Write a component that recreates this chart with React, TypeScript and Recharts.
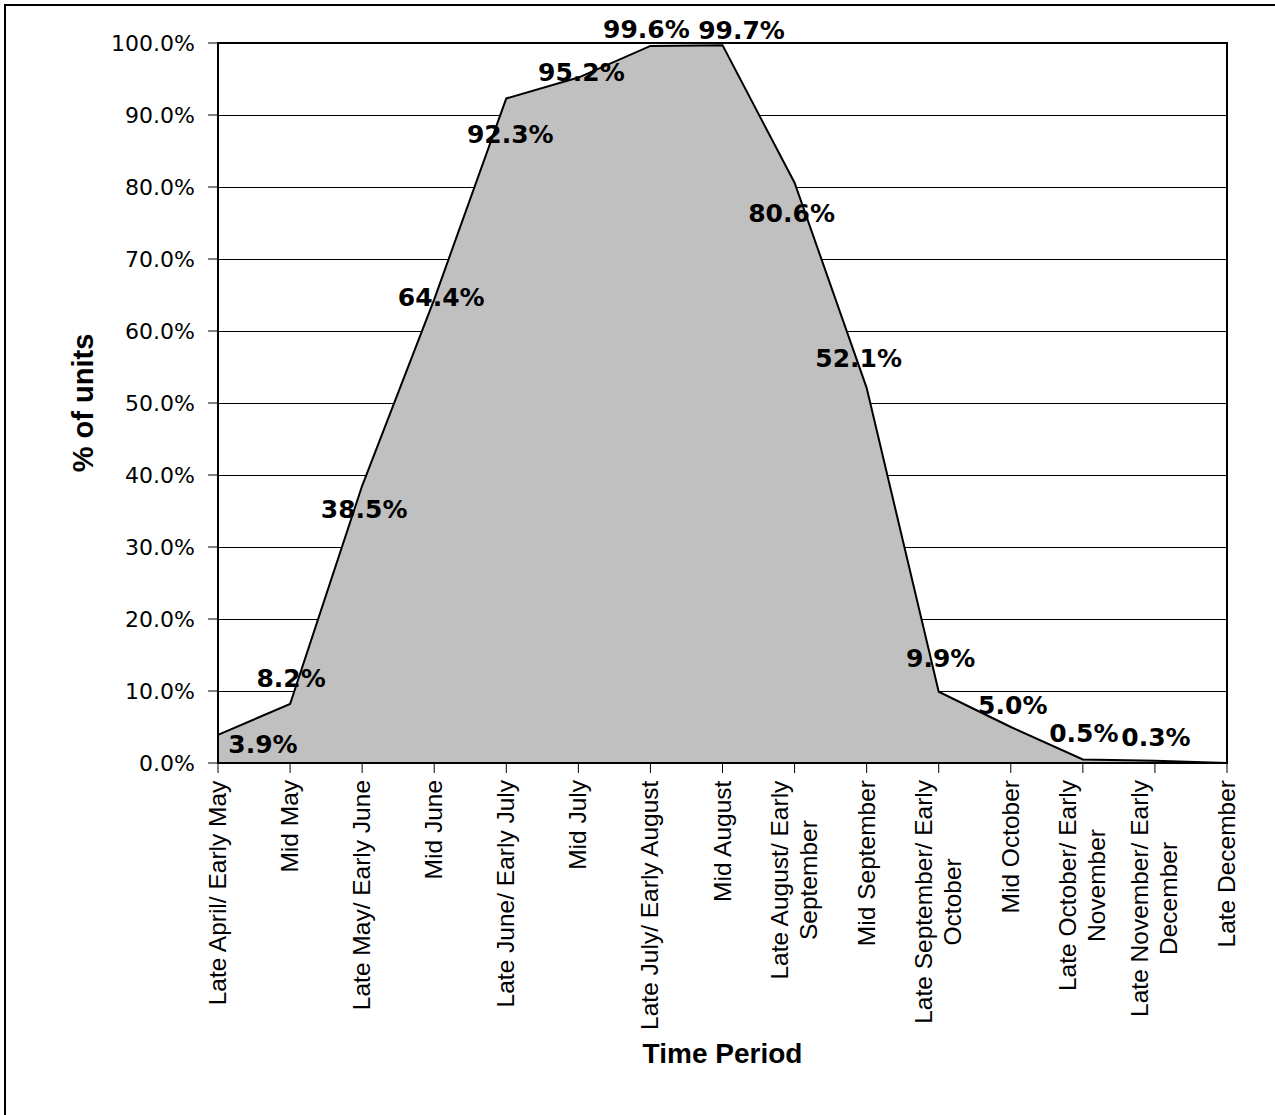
import React from 'react'
import {
  AreaChart,
  Area,
  XAxis,
  YAxis,
  CartesianGrid,
  LabelList,
  ReferenceArea,
  Label,
} from 'recharts'

const periods = [
  'Late April/ Early May',
  'Mid May',
  'Late May/ Early June',
  'Mid June',
  'Late June/ Early July',
  'Mid July',
  'Late July/ Early August',
  'Mid August',
  'Late August/ Early\nSeptember',
  'Mid September',
  'Late September/ Early\nOctober',
  'Mid October',
  'Late October/ Early\nNovember',
  'Late November/ Early\nDecember',
  'Late December',
]

const unitsPct = [3.9, 8.2, 38.5, 64.4, 92.3, 95.2, 99.6, 99.7, 80.6, 52.1, 9.9, 5.0, 0.5, 0.3, 0]

const yTicks = [0, 10, 20, 30, 40, 50, 60, 70, 80, 90, 100]

// label nudges (px) so the value labels sit where the original put them
const labelNudge: [number, number][] = [
  [45, 10], [1, -25], [2, 24], [7, -2], [4, 36], [3, -5], [-4, -16], [19, -15],
  [-3, 31], [-8, -29], [2, -33], [2, -22], [1, -26], [1, -23], [0, 0],
]

const data = periods.map((p, i) => ({ period: p, units: unitsPct[i] }))

const TICK_SIZE = 24.5
const TICK_FONT = `${TICK_SIZE}px 'Liberation Sans'`
let ctx: CanvasRenderingContext2D | null = null
function textWidth(s: string) {
  if (!ctx) ctx = document.createElement('canvas').getContext('2d')
  if (!ctx) return s.length * 12
  ctx.font = TICK_FONT
  return ctx.measureText(s).width
}

function PeriodTick({ x, y, payload }: any) {
  const lines = String(payload.value).split('\n')
  const maxW = Math.max(...lines.map(textWidth))
  const lh = 29
  return (
    <g transform={`translate(${x},${y + 5}) rotate(-90)`}>
      {lines.map((ln, i) => (
        <text
          key={i}
          x={-maxW / 2}
          y={8 + (i - (lines.length - 1) / 2) * lh}
          textAnchor="middle"
          fontFamily="'Liberation Sans', Arial, sans-serif"
          fontSize={TICK_SIZE}
          fill="#000"
        >
          {ln}
        </text>
      ))}
    </g>
  )
}

function ValueLabel({ x, y, value, index }: any) {
  if (!value) return null
  const [dx, dy] = labelNudge[index] || [0, 0]
  return (
    <text
      x={x + dx}
      y={y + dy}
      textAnchor="middle"
      dominantBaseline="central"
      fontFamily="'DejaVu Sans', Verdana, sans-serif"
      fontWeight="bold"
      fontSize={25}
      fill="#000"
    >
      {`${Number(value).toFixed(1)}%`}
    </text>
  )
}

export default function App() {
  return (
    <div
      style={{
        position: 'absolute',
        left: 0,
        top: 0,
        width: 1275,
        height: 1115,
        overflow: 'hidden',
        background: '#fff',
      }}
    >
      <div
        style={{
          position: 'absolute',
          left: 4,
          top: 4,
          width: 1320,
          height: 1200,
          border: '2px solid #000',
        }}
      />
      <div style={{ position: 'absolute', left: 0, top: 0 }}>
        <AreaChart
          width={1275}
          height={1115}
          data={data}
          margin={{ top: 43, right: 48, left: 0, bottom: 0 }}
        >
          <CartesianGrid vertical={false} stroke="#000" strokeWidth={1} shapeRendering="crispEdges" />
          <XAxis
            dataKey="period"
            interval={0}
            height={352}
            tickSize={10}
            tickLine={{ stroke: '#000' }}
            axisLine={{ stroke: '#000', strokeWidth: 2 }}
            tick={<PeriodTick />}
          >
            <Label
              content={({ viewBox }: any) => (
                <text
                  x={viewBox.x + viewBox.width / 2}
                  y={1063}
                  textAnchor="middle"
                  fontFamily="'Liberation Sans', Arial, sans-serif"
                  fontWeight="bold"
                  fontSize={28}
                  fill="#000"
                >
                  Time Period
                </text>
              )}
            />
          </XAxis>
          <YAxis
            width={218}
            domain={[0, 100]}
            ticks={yTicks}
            interval={0}
            tickSize={10}
            tickMargin={13}
            tickLine={{ stroke: '#000' }}
            axisLine={{ stroke: '#000', strokeWidth: 2 }}
            tick={{ fontSize: 22, fill: '#000', fontFamily: "'DejaVu Sans', Verdana, sans-serif" }}
            tickFormatter={(v) => `${v.toFixed(1)}%`}
          >
            <Label
              content={({ viewBox }: any) => {
                const cx = 93
                const cy = viewBox.y + viewBox.height / 2
                return (
                  <text
                    transform={`translate(${cx},${cy}) rotate(-90)`}
                    textAnchor="middle"
                    fontFamily="'Liberation Sans', Arial, sans-serif"
                    fontWeight="bold"
                    fontSize={29}
                    fill="#000"
                  >
                    % of units
                  </text>
                )
              }}
            />
          </YAxis>
          <Area
            type="linear"
            dataKey="units"
            stroke="#000"
            strokeWidth={2}
            fill="#C0C0C0"
            fillOpacity={1}
            dot={false}
            activeDot={false}
            isAnimationActive={false}
          >
            <LabelList dataKey="units" content={<ValueLabel />} />
          </Area>
          <ReferenceArea
            x1={periods[0]}
            x2={periods[periods.length - 1]}
            y1={0}
            y2={100}
            fill="none"
            stroke="#000"
            strokeWidth={2}
            ifOverflow="visible"
          />
        </AreaChart>
      </div>
    </div>
  )
}
